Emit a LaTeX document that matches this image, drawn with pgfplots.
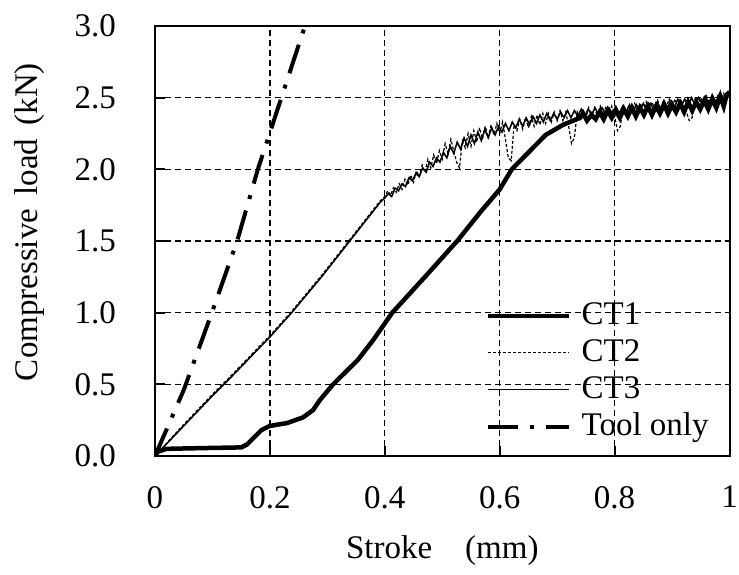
\documentclass[border=0pt]{standalone}
\usepackage{fontspec}
\setmainfont{Liberation Serif}
\usepackage{pgfplots}
\pgfplotsset{compat=1.18}

\begin{document}
\fontsize{33}{39}\selectfont
\begin{tikzpicture}[x=1pt,y=1pt]
\useasboundingbox (-155,-118) rectangle (584,456);
\begin{axis}[
    at={(0,0)}, anchor=south west,
    width=574.5pt, height=430pt, scale only axis,
    xmin=0, xmax=1, ymin=0, ymax=3,
    xtick={0,0.2,0.4,0.6,0.8,1},
    xticklabels={0,0.2,0.4,0.6,0.8,1},
    ytick={0,0.5,1,1.5,2,2.5,3},
    yticklabels={0.0,0.5,1.0,1.5,2.0,2.5,3.0},
    /pgf/number format/assume math mode=true,
    tick pos=left, tick align=inside,
    major tick length=10pt,
    every tick/.style={black, line width=1.8pt},
    axis line style={line width=2pt},
    grid=major,
    major grid style={black, line width=1.3pt, dash pattern=on 6pt off 4pt},
    yticklabel style={xshift=-28pt},
    xticklabel style={yshift=-19pt},
    every axis x label/.style={at={(axis description cs:0.5,-0.219)}, anchor=center},
    every axis y label/.style={at={(axis description cs:-0.2176,0.544)}, anchor=center, rotate=90},
    xlabel={Stroke\hspace{1em}(mm)},
    ylabel={Compressive\hspace{0.4em}load\hspace{0.4em}(kN)},
    clip=true,
    legend style={draw=none, fill=none, at={(rel axis cs:0.576,0.357)}, anchor=north west,
        inner sep=0pt, row sep=10pt, font=\fontsize{33}{39}\selectfont,
        nodes={inner sep=0pt}},
    legend cell align=left,
    legend image code/.code={\draw[#1] (0pt,0pt) -- (81pt,0pt); \path (91pt,0pt);},
]
\addplot[black, line width=4.5pt] coordinates {
(0,0) (0.005,0.03) (0.02,0.05) (0.08,0.055) (0.15,0.06) (0.16,0.08) (0.175,0.14)
(0.185,0.18) (0.2,0.21) (0.23,0.23) (0.258,0.27) (0.275,0.32) (0.287,0.39)
(0.31,0.5) (0.353,0.67) (0.38,0.81) (0.413,1.0) (0.47,1.25) (0.526,1.5)
(0.566,1.70) (0.6,1.86) (0.621,2.0) (0.653,2.13) (0.68,2.24) (0.71,2.31)
(0.74,2.36) (0.745,2.39) (0.752,2.34) (0.76,2.38) (0.767,2.35) (0.774,2.40)
(0.781,2.35) (0.788,2.41) (0.795,2.36) (0.802,2.41) (0.809,2.36) (0.816,2.42)
(0.823,2.37) (0.830,2.43) (0.837,2.37) (0.844,2.43) (0.851,2.38) (0.858,2.44)
(0.865,2.38) (0.872,2.44) (0.879,2.39) (0.886,2.45) (0.893,2.39) (0.900,2.45)
(0.907,2.40) (0.914,2.46) (0.921,2.40) (0.928,2.47) (0.935,2.41) (0.942,2.47)
(0.949,2.42) (0.956,2.48) (0.963,2.42) (0.970,2.49) (0.977,2.43) (0.984,2.51)
(0.990,2.44) (0.995,2.52) (1.00,2.54)
};
\addlegendentry{CT1}
\addplot[black, line width=1.2pt, dash pattern=on 3pt off 2pt] coordinates {
(0,0) (0.05,0.22) (0.1,0.43) (0.13,0.55) (0.183,0.77) (0.2,0.84) (0.238,1.01)
(0.29,1.26) (0.339,1.51) (0.392,1.78)
(0.400,1.81) (0.405,1.85) (0.410,1.82) (0.415,1.87) (0.420,1.84) (0.425,1.90)
(0.430,1.86) (0.435,1.93) (0.440,1.89) (0.445,1.96) (0.450,1.91) (0.455,1.99)
(0.460,1.95) (0.465,2.03) (0.470,1.98) (0.475,2.07) (0.480,2.01) (0.485,2.10)
(0.490,2.04) (0.495,2.13) (0.500,2.07) (0.505,2.18) (0.510,2.11) (0.515,2.21)
(0.520,2.13) (0.525,2.05) (0.530,2.01) (0.535,2.20) (0.540,2.15) (0.545,2.25)
(0.550,2.16) (0.555,2.27) (0.560,2.19) (0.565,2.29) (0.570,2.21) (0.575,2.30)
(0.580,2.22) (0.585,2.31) (0.590,2.24) (0.595,2.32) (0.600,2.25) (0.605,2.33)
(0.610,2.21) (0.615,2.08) (0.620,2.06) (0.625,2.31) (0.630,2.27) (0.635,2.35)
(0.640,2.28) (0.645,2.36) (0.650,2.29) (0.655,2.37) (0.660,2.30) (0.665,2.38)
(0.670,2.31) (0.675,2.39) (0.680,2.32) (0.685,2.39) (0.690,2.33) (0.695,2.40)
(0.700,2.34) (0.705,2.41) (0.710,2.34) (0.715,2.40) (0.720,2.30) (0.725,2.18)
(0.730,2.22) (0.735,2.40) (0.740,2.35) (0.745,2.42) (0.750,2.36) (0.755,2.43)
(0.760,2.37) (0.765,2.43) (0.770,2.37) (0.775,2.44) (0.780,2.38) (0.785,2.44)
(0.790,2.38) (0.795,2.44) (0.800,2.37) (0.805,2.27) (0.810,2.30) (0.815,2.44)
(0.820,2.39) (0.825,2.45) (0.830,2.40) (0.835,2.46) (0.840,2.40) (0.845,2.46)
(0.850,2.41) (0.855,2.47) (0.860,2.41) (0.865,2.47) (0.870,2.42) (0.875,2.48)
(0.880,2.42) (0.885,2.48) (0.890,2.43) (0.895,2.49) (0.900,2.43) (0.905,2.49)
(0.910,2.44) (0.915,2.49) (0.920,2.44) (0.925,2.40) (0.930,2.34) (0.935,2.36)
(0.940,2.49) (0.945,2.45) (0.950,2.50) (0.955,2.45) (0.960,2.51) (0.965,2.46)
(0.970,2.51) (0.975,2.46) (0.980,2.52) (0.985,2.47) (0.990,2.53) (0.995,2.48)
(1.000,2.55)
};
\addlegendentry{CT2}
\addplot[black, line width=1.5pt] coordinates {
(0,0) (0.05,0.21) (0.1,0.42) (0.13,0.54) (0.183,0.76) (0.2,0.83) (0.238,1.0)
(0.29,1.25) (0.339,1.5) (0.392,1.77)
(0.400,1.80) (0.406,1.83) (0.412,1.81) (0.418,1.87) (0.424,1.85) (0.430,1.90)
(0.436,1.88) (0.442,1.94) (0.448,1.92) (0.454,1.97) (0.460,1.95) (0.466,2.01)
(0.472,1.98) (0.478,2.05) (0.484,2.02) (0.490,2.08) (0.496,2.05) (0.502,2.12)
(0.508,2.08) (0.514,2.16) (0.520,2.11) (0.526,2.19) (0.532,2.14) (0.538,2.22)
(0.544,2.16) (0.550,2.24) (0.556,2.18) (0.562,2.26) (0.568,2.20) (0.574,2.28)
(0.580,2.22) (0.586,2.29) (0.592,2.24) (0.598,2.30) (0.604,2.26) (0.610,2.32)
(0.616,2.27) (0.622,2.33) (0.628,2.29) (0.634,2.35) (0.640,2.30) (0.646,2.36)
(0.652,2.31) (0.658,2.37) (0.664,2.32) (0.670,2.38) (0.676,2.33) (0.682,2.39)
(0.688,2.34) (0.694,2.39) (0.700,2.35) (0.706,2.40) (0.712,2.36) (0.718,2.41)
(0.724,2.36) (0.730,2.41) (0.736,2.37) (0.742,2.42) (0.748,2.37) (0.754,2.42)
(0.760,2.38) (0.766,2.43) (0.772,2.38) (0.778,2.43) (0.784,2.39) (0.790,2.43)
(0.796,2.39) (0.802,2.44) (0.808,2.39) (0.814,2.44) (0.820,2.40) (0.826,2.45)
(0.832,2.40) (0.838,2.45) (0.844,2.41) (0.850,2.46) (0.856,2.41) (0.862,2.46)
(0.868,2.42) (0.874,2.47) (0.880,2.42) (0.886,2.48) (0.892,2.43) (0.898,2.48)
(0.904,2.43) (0.910,2.49) (0.916,2.44) (0.922,2.49) (0.928,2.44) (0.934,2.50)
(0.940,2.45) (0.946,2.50) (0.952,2.46) (0.958,2.51) (0.964,2.46) (0.970,2.52)
(0.976,2.47) (0.982,2.52) (0.988,2.48) (0.994,2.53) (1.000,2.54)
};
\addlegendentry{CT3}
\addplot[black, line width=4pt, dash pattern=on 30pt off 12pt on 4pt off 12pt] coordinates {
(0,0) (0.05,0.46) (0.099,1.0) (0.143,1.5) (0.179,2.0) (0.22,2.5) (0.261,3.0)
};
\addlegendentry{Tool only}
\end{axis}
\end{tikzpicture}
\end{document}
